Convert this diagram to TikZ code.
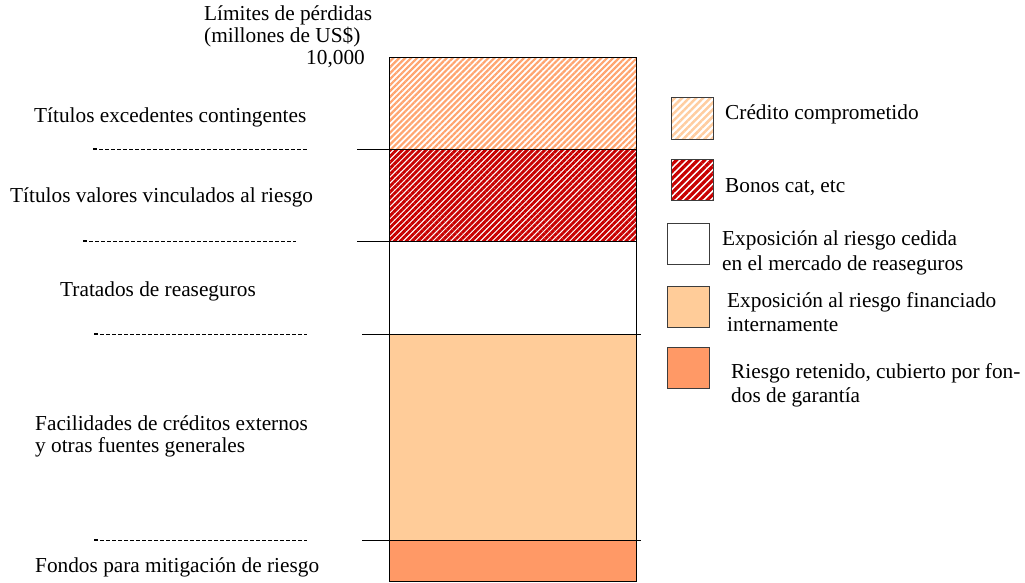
\documentclass[tikz,border=0pt]{standalone}
\usepackage{fontspec}
\setmainfont{Liberation Serif}
\usetikzlibrary{patterns.meta}
\definecolor{stripeorange}{RGB}{255,165,112}
\definecolor{stripepale}{RGB}{255,205,160}
\definecolor{stripered}{RGB}{200,0,0}
\definecolor{lightorange}{RGB}{255,204,153}
\definecolor{darkorange}{RGB}{255,153,102}
\definecolor{boxedge}{RGB}{60,60,60}
\begin{document}
\begin{tikzpicture}[x=1pt,y=-1pt,
  lbl/.style={anchor=base west, inner sep=0pt, font=\fontsize{21.3}{22}\selectfont},
  lblr/.style={anchor=base east, inner sep=0pt, font=\fontsize{21.3}{22}\selectfont},
  sep/.style={line width=0.9pt, black},
  dashsep/.style={line width=0.8pt, black, dash pattern=on 4pt off 2pt},
  legbox/.style={draw=boxedge, line width=0.9pt},
  orangepat/.style={pattern={Lines[angle=45,distance=4.2pt,line width=2.2pt]}, pattern color=stripeorange},
  redpat/.style={pattern={Lines[angle=45,distance=4.2pt,line width=2.9pt]}, pattern color=stripered},
  palepat/.style={pattern={Lines[angle=45,distance=5pt,line width=2.5pt]}, pattern color=stripepale},
  redlegpat/.style={pattern={Lines[angle=45,distance=5pt,line width=3.2pt]}, pattern color=stripered}
]
\useasboundingbox (0,0) rectangle (1025,582);

% bar segments
\fill[white] (389,57) rectangle (636,149);
\pattern[orangepat] (389,57) rectangle (636,149);
\fill[white] (389,149) rectangle (636,241);
\pattern[redpat] (389,149) rectangle (636,241);
\fill[lightorange] (389,334) rectangle (636,540);
\fill[darkorange] (389,540) rectangle (636,581);
\draw[sep] (389,57) rectangle (636,581);

% separators
\coordinate (s1a) at (357,149); \coordinate (s1b) at (636,149);
\coordinate (s2a) at (357,241); \coordinate (s2b) at (636,241);
\coordinate (s3a) at (362,334); \coordinate (s3b) at (641,334);
\coordinate (s4a) at (362,540); \coordinate (s4b) at (641,540);
\draw[sep] (s1a) -- (s1b);
\draw[sep] (s2a) -- (s2b);
\draw[sep] (s3a) -- (s3b);
\draw[sep] (s4a) -- (s4b);

% dashed lines
\coordinate (d1a) at (93,149); \coordinate (d1b) at (307,149);
\coordinate (d2a) at (83,241); \coordinate (d2b) at (296,241);
\coordinate (d3a) at (94,334); \coordinate (d3b) at (307,334);
\coordinate (d4a) at (94,540); \coordinate (d4b) at (307,540);
\foreach \n in {1,2,3,4}{
  \draw[dashsep] (d\n a) -- (d\n b);
  \draw[line width=1.6pt] (d\n a) -- ++(4,0);
}

% left labels
\node[lbl] (t1) at (204,20) {Límites de pérdidas};
\node[lbl] (t2) at (204,42) {(millones de US\$)};
\node[lblr] (t3) at (365,64) {10,000};
\node[lbl] (l1) at (34,122) {Títulos excedentes contingentes};
\node[lbl] (l2) at (10,202) {Títulos valores vinculados al riesgo};
\node[lbl] (l3) at (60,296) {Tratados de reaseguros};
\node[lbl] (l4a) at (35,430) {Facilidades de créditos externos};
\node[lbl] (l4b) at (35,452) {y otras fuentes generales};
\node[lbl] (l5) at (35,572) {Fondos para mitigación de riesgo};

% legend
\fill[white] (671,97) rectangle (713,139);
\pattern[palepat] (671,97) rectangle (713,139);
\draw[legbox] (671,97) rectangle (713,139);
\fill[white] (671,159) rectangle (713,200);
\pattern[redlegpat] (671,159) rectangle (713,200);
\draw[legbox] (671,159) rectangle (713,200);
\draw[legbox, fill=white] (667,223) rectangle (709,264);
\draw[legbox, fill=lightorange] (667,286) rectangle (709,327);
\draw[legbox, fill=darkorange] (667,347) rectangle (709,388);

\node[lbl] (g1) at (725,119) {Crédito comprometido};
\node[lbl] (g2) at (725,192) {Bonos cat, etc};
\node[lbl] (g3a) at (722,245) {Exposición al riesgo cedida};
\node[lbl] (g3b) at (722,270) {en el mercado de reaseguros};
\node[lbl] (g4a) at (727,307) {Exposición al riesgo financiado};
\node[lbl] (g4b) at (727,331) {internamente};
\node[lbl] (g5a) at (731,378) {Riesgo retenido, cubierto por fon-};
\node[lbl] (g5b) at (731,402) {dos de garantía};
\end{tikzpicture}
\end{document}
